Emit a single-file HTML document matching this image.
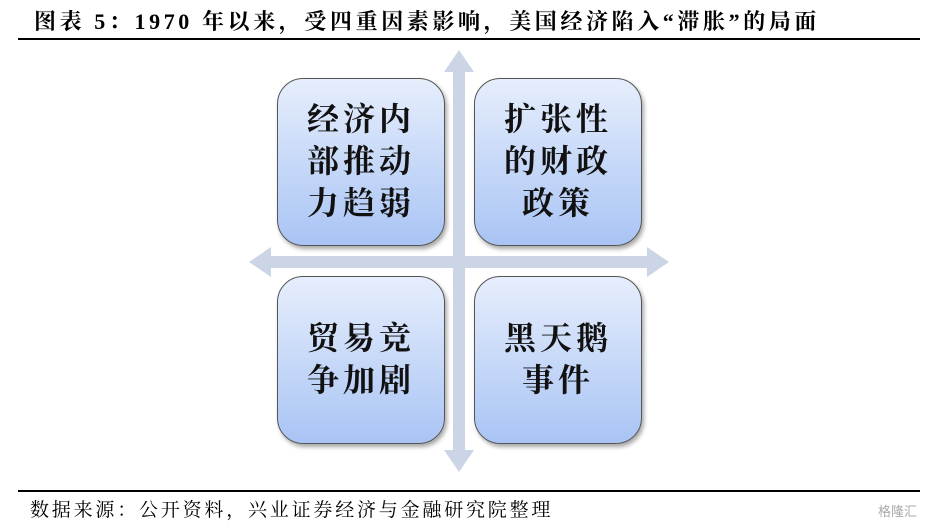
<!DOCTYPE html>
<html><head><meta charset="utf-8"><style>
body{margin:0;width:925px;height:525px;background:#fff;position:relative;overflow:hidden;font-family:"Liberation Serif","Noto Serif CJK SC",serif;}
.t{position:absolute;left:34px;top:5px;font-size:22px;font-weight:bold;color:#000;white-space:nowrap;letter-spacing:3.6px}
.l1{position:absolute;left:18px;top:38px;width:902px;height:2px;background:#000}
.l2{position:absolute;left:18px;top:490px;width:902px;height:2px;background:#000}
.f{position:absolute;left:30px;top:495px;font-size:19px;color:#000;white-space:nowrap;letter-spacing:2.8px}
.w{position:absolute;right:8px;top:501px;font-size:13px;color:#aaa;font-family:"Liberation Sans","Noto Sans CJK SC",sans-serif}
.b{position:absolute;width:166px;height:166px;border:1.5px solid #555;border-radius:26px;background:linear-gradient(#e6eefc,#a9c4f4);box-shadow:2px 3px 4px rgba(0,0,0,.35);display:flex;align-items:center;justify-content:center;text-align:center;font-size:32px;line-height:42px;font-weight:bold;color:#111;font-family:"Noto Serif CJK SC",serif;letter-spacing:4px}
.b span{position:relative;top:-3px}
</style></head><body>
<div class="t">图表 5：1970 年以来，受四重因素影响，美国经济陷入“滞胀”的局面</div>
<div class="l1"></div>
<svg style="position:absolute;left:0;top:0" width="925" height="525">
<g fill="#ccd5e6">
<rect x="453" y="70" width="12" height="380"/>
<polygon points="459,50 444,72 474,72"/>
<polygon points="459,472 444,450 474,450"/>
<rect x="268" y="256" width="382" height="12"/>
<polygon points="249,262 271,247 271,277"/>
<polygon points="669,262 647,247 647,277"/>
</g></svg>
<div class="b" style="left:277px;top:78px"><span>经济内<br>部推动<br>力趋弱</span></div>
<div class="b" style="left:474px;top:78px"><span>扩张性<br>的财政<br>政策</span></div>
<div class="b" style="left:277px;top:276px"><span>贸易竞<br>争加剧</span></div>
<div class="b" style="left:474px;top:276px"><span>黑天鹅<br>事件</span></div>
<div class="l2"></div>
<div class="f">数据来源：公开资料，兴业证券经济与金融研究院整理</div>
<div class="w">格隆汇</div>
</body></html>
